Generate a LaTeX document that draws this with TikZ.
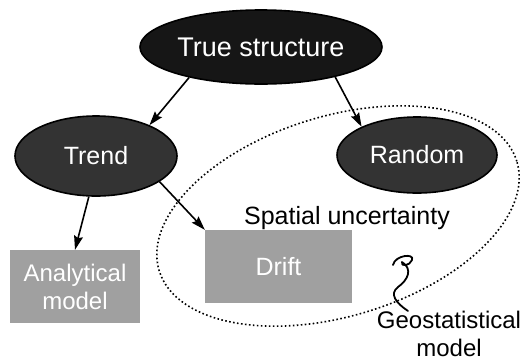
\documentclass[tikz,border=0pt]{standalone}
\usepackage{fontspec}
\setmainfont{Liberation Sans}
\usetikzlibrary{shapes.geometric,arrows.meta}
\definecolor{ovaldark}{HTML}{161616}
\definecolor{ovalgray}{HTML}{333333}
\definecolor{boxgray}{HTML}{A0A0A0}
\begin{document}
\begin{tikzpicture}[x=1pt,y=-1pt,
  oval/.style={ellipse, draw=black, line width=1.6pt, inner sep=0pt, text=white},
  graybox/.style={rectangle, fill=boxgray, inner sep=0pt, text=white, align=center},
  arr/.style={-{Stealth[length=14pt,width=9pt,inset=2pt]}, line width=1.6pt},
  lbl/.style={inner sep=0pt, text=black, align=center},
  dotline/.style={line width=1.6pt, dash pattern=on 1.6pt off 2.4pt},
  squig/.style={line width=1.8pt, line cap=round, line join=round}
]
\useasboundingbox (0,0) rectangle (521,362);
\fill[white] (0,0) rectangle (521,362);

% dotted region
\draw[dotline, rotate around={17:(338,216)}] (338,216) ellipse [x radius=187pt, y radius=100pt];

% nodes
\node[oval, fill=ovaldark, minimum width=242pt, minimum height=74pt,
      font=\fontsize{27}{30}\selectfont] (true) at (261,47) {True structure};
\node[oval, fill=ovalgray, minimum width=162pt, minimum height=80pt,
      font=\fontsize{25}{28}\selectfont] (trend) at (96,156) {Trend};
\node[oval, fill=ovalgray, minimum width=160pt, minimum height=76pt,
      font=\fontsize{25}{28}\selectfont] (random) at (417,155) {Random};
\node[graybox, minimum width=130pt, minimum height=73pt,
      font=\fontsize{24}{28}\selectfont] (analytical) at (75,286.5) {Analytical\\model};
\node[graybox, minimum width=147pt, minimum height=73pt,
      font=\fontsize{25}{28}\selectfont] (drift) at (278.5,266.5) {Drift};
\node[lbl, anchor=base, font=\fontsize{25}{28}\selectfont] (spatial) at (347,224) {Spatial uncertainty};
\node[lbl, anchor=north, font=\fontsize{24}{28}\selectfont] (geo) at (449,311) {Geostatistical\\model};

% connectors
\draw[arr] (true.203) -- (trend.30);
\draw[arr] (true.338) -- (random.153);
\draw[arr] (trend.260) -- (analytical.north);
\draw[arr] (trend.338) -- (drift.north west);

% squiggle pointer from label to region
\coordinate (sqtop) at (393,265);
\coordinate (sqend) at (408,311);
\draw[squig] (sqtop) .. controls (395,255) and (415,253) .. (412,260)
  .. controls (410,266) and (400,267) .. (402,262)
  .. controls (413,269) and (408,280) .. (398,287)
  .. controls (389,294) and (396,303) .. (sqend);
\end{tikzpicture}
\end{document}
